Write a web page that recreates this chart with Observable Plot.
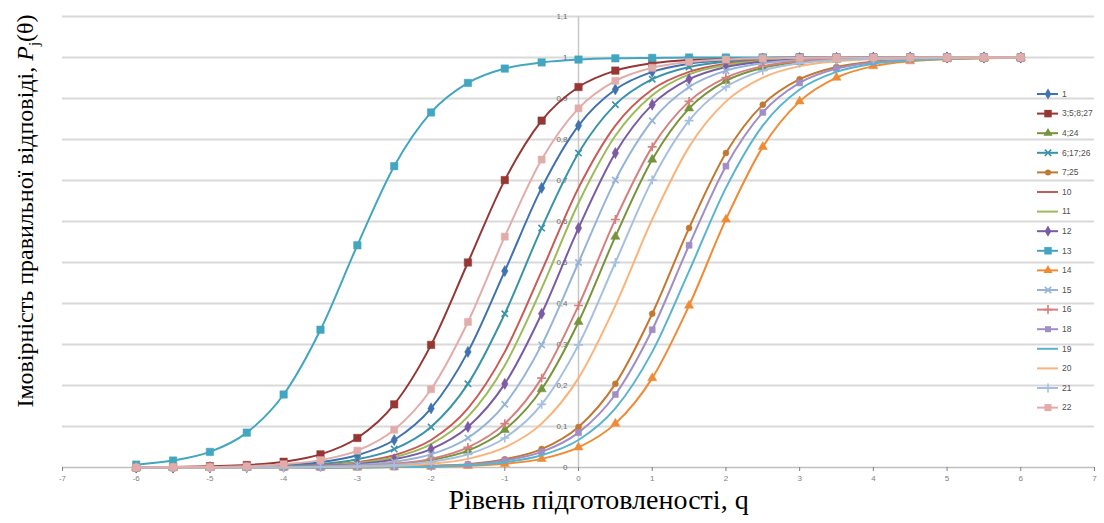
<!DOCTYPE html>
<html><head><meta charset="utf-8">
<script src="https://cdn.jsdelivr.net/npm/d3@7"></script>
<script src="https://cdn.jsdelivr.net/npm/@observablehq/plot@0.6"></script>
<style>body{margin:0;background:#fff}#chart{width:1104px;height:523px}</style>
</head><body><div id="chart"></div>
<script>
// ---- data ----
const theta = [-6,-5.5,-5,-4.5,-4,-3.5,-3,-2.5,-2,-1.5,-1,-0.5,0,0.5,1,1.5,2,2.5,3,3.5,4,4.5,5,5.5,6];
const seriesNames = ["1","3;5;8;27","4;24","6;17;26","7;25","10","11","12","13","14","15","16","18","19","20","21","22"];
const s1       = [0,0,.001,.002,.006,.013,.030,.067,.144,.282,.479,.682,.834,.922,.965,.985,.993,.997,.999,.999,1,1,1,1,1];
const s3_5_8_27= [0,.001,.003,.006,.014,.032,.072,.154,.299,.5,.701,.846,.928,.968,.986,.994,.997,.999,1,1,1,1,1,1,1];
const s4_24    = [0,0,0,0,.001,.001,.003,.008,.018,.041,.092,.191,.355,.563,.751,.876,.943,.975,.989,.995,.998,.999,1,1,1];
const s6_17_26 = [0,0,.001,.002,.004,.008,.020,.045,.099,.204,.375,.584,.767,.885,.947,.977,.990,.996,.998,.999,1,1,1,1,1];
const s7_25    = [0,0,0,0,0,0,.001,.002,.004,.008,.020,.045,.099,.204,.375,.584,.767,.885,.947,.977,.990,.996,.998,.999,1];
const s10      = [0,0,0,.001,.002,.006,.013,.030,.067,.144,.282,.479,.682,.834,.922,.965,.985,.993,.997,.999,.999,1,1,1,1];
const s11      = [0,0,0,.001,.002,.005,.011,.025,.057,.124,.249,.437,.645,.809,.908,.959,.982,.992,.997,.999,.999,1,1,1,1];
const s12      = [0,0,0,.001,.002,.004,.008,.020,.045,.099,.204,.375,.584,.767,.885,.947,.977,.990,.996,.998,.999,1,1,1,1];
const s13      = [.007,.017,.038,.085,.178,.336,.542,.735,.866,.938,.973,.988,.995,.998,.999,1,1,1,1,1,1,1,1,1,1];
const s14      = [0,0,0,0,0,0,0,.001,.002,.004,.009,.021,.049,.107,.218,.395,.605,.782,.893,.951,.979,.991,.996,.998,.999];
const s15      = [0,0,0,0,.001,.003,.006,.014,.032,.072,.154,.299,.5,.701,.846,.928,.968,.986,.994,.997,.999,1,1,1,1];
const s16      = [0,0,0,0,.001,.002,.004,.009,.021,.049,.107,.218,.395,.605,.782,.893,.951,.979,.991,.996,.998,.999,1,1,1];
const s18      = [0,0,0,0,0,0,.001,.001,.003,.007,.017,.038,.085,.178,.336,.542,.735,.866,.938,.973,.988,.995,.998,.999,1];
const s19      = [0,0,0,0,0,0,0,.001,.002,.006,.013,.030,.067,.144,.282,.479,.682,.834,.922,.965,.985,.993,.997,.999,.999];
const s20      = [0,0,0,0,0,.001,.002,.004,.009,.021,.049,.107,.218,.395,.605,.782,.893,.951,.979,.991,.996,.998,.999,1,1];
const s21      = [0,0,0,0,0,.001,.003,.006,.014,.032,.072,.154,.299,.5,.701,.846,.928,.968,.986,.994,.997,.999,1,1,1];
const s22      = [0,.001,.001,.003,.008,.018,.041,.092,.191,.355,.563,.751,.876,.943,.975,.989,.995,.998,.999,1,1,1,1,1,1];
const seriesValues = [s1,s3_5_8_27,s4_24,s6_17_26,s7_25,s10,s11,s12,s13,s14,s15,s16,s18,s19,s20,s21,s22];
const xTicks = [-7,-6,-5,-4,-3,-2,-1,0,1,2,3,4,5,6,7];
const yTicks = [0,0.1,0.2,0.3,0.4,0.5,0.6,0.7,0.8,0.9,1,1.1];
const yTickLabels = ["0","0,1","0,2","0,3","0,4","0,5","0,6","0,7","0,8","0,9","1","1,1"];
const xTitle = "Рівень підготовленості, q";
const yTitleMain = "Імовірність правильної відповіді, ";
const yTitleRaw = yTitleMain + "Pj(θ)";

// ---- styles ----
const styles = {
  "1":        {color:"#3f72af", symbol:"diamond",  r:3.4},
  "3;5;8;27": {color:"#953735", symbol:"square",   r:4.2},
  "4;24":     {color:"#77933c", symbol:"triangle", r:3.4},
  "6;17;26":  {color:"#3a93a8", symbol:"times",    r:3.0},
  "7;25":     {color:"#c27830", symbol:"circle",   r:3.0},
  "10":       {color:"#c85a57", symbol:null},
  "11":       {color:"#9bbb59", symbol:null},
  "12":       {color:"#7b5ba1", symbol:"diamond",  r:3.4},
  "13":       {color:"#43a6c0", symbol:"square",   r:4.2},
  "14":       {color:"#ef8b35", symbol:"triangle", r:3.4},
  "15":       {color:"#95b3d7", symbol:"times",    r:3.0},
  "16":       {color:"#d4807e", symbol:"plus",     r:3.0},
  "18":       {color:"#a08ec4", symbol:"square",   r:3.4},
  "19":       {color:"#5ab4cc", symbol:null},
  "20":       {color:"#fab37a", symbol:null},
  "21":       {color:"#a6bfde", symbol:"plus",     r:3.0},
  "22":       {color:"#e2acaa", symbol:"square",   r:4.0}
};
const strokeSymbols = new Set(["times","plus"]);

const rows = [];
seriesNames.forEach((name, si) => {
  seriesValues[si].forEach((p, i) => rows.push({series: name, theta: theta[i], p}));
});

const marks = [
  Plot.ruleY(yTicks.slice(1), {y: d => d, stroke: "#d9d9d9", strokeWidth: 2}),
  Plot.ruleY([0], {y: d => d, stroke: "#c0c0c0", strokeWidth: 1.5}),
  Plot.ruleX([0], {x: d => d, y1: 0, y2: 1.1, stroke: "#c8c8c8", strokeWidth: 1.5}),
  Plot.axisX(xTicks, {tickSize: 4, tickPadding: 4, tickFormat: d => String(d), fontSize: 8, color: "#808080", label: null}),
  Plot.text(yTicks, {x: 0, y: d => d, text: (d, i) => yTickLabels[i], textAnchor: "end", dx: -11, fontSize: 8, fill: "#6a6a6a"})
];
seriesNames.forEach(name => {
  const st = styles[name];
  const data = rows.filter(d => d.series === name);
  marks.push(Plot.line(data, {x: "theta", y: "p", stroke: st.color, strokeWidth: 2, curve: "monotone-x"}));
  if (st.symbol) {
    if (strokeSymbols.has(st.symbol)) {
      marks.push(Plot.dot(data, {x: "theta", y: "p", symbol: st.symbol, r: st.r, stroke: st.color, strokeWidth: 1.6}));
    } else {
      marks.push(Plot.dot(data, {x: "theta", y: "p", symbol: st.symbol, r: st.r, fill: st.color, stroke: st.color, strokeWidth: 0.5}));
    }
  }
});
marks.push(Plot.text([xTitle], {frameAnchor: "bottom", dy: 41, dx: 20, fontSize: 28, fontFamily: "Liberation Serif, Times New Roman, serif", fill: "#000"}));
marks.push(Plot.text([yTitleRaw], {frameAnchor: "left", textAnchor: "middle", rotate: -90, dx: -37, dy: -31, fontSize: 24, fontFamily: "Liberation Serif, Times New Roman, serif", fill: "#000"}));

const svg = Plot.plot({
  width: 1104, height: 523,
  marginLeft: 62, marginRight: 10, marginTop: 16, marginBottom: 56,
  x: {domain: [-7, 7], axis: null},
  y: {domain: [0, 1.1], axis: null},
  style: {fontFamily: "Liberation Sans, Arial, sans-serif", fontSize: "8px", background: "#fff"},
  marks
});

// subscript in y title
d3.select(svg).selectAll("text").filter(function(){ return this.textContent === yTitleRaw; }).each(function(){
  const t = d3.select(this);
  t.text(null);
  t.append("tspan").text(yTitleMain);
  t.append("tspan").attr("font-style", "italic").text("P");
  t.append("tspan").attr("font-size", "15px").attr("dy", "6").text("j");
  t.append("tspan").attr("dy", "-6").text("(θ)");
});

// legend
const symbolMap = {square: d3.symbolSquare, diamond: d3.symbolDiamond, triangle: d3.symbolTriangle, circle: d3.symbolCircle, times: d3.symbolTimes, plus: d3.symbolPlus};
const lg = d3.select(svg).append("g").attr("text-anchor", "start");
seriesNames.forEach((name, j) => {
  const st = styles[name];
  const y = 94 + 19.6 * j;
  const g = lg.append("g").attr("transform", `translate(0,${y})`);
  g.append("line").attr("x1", 1037).attr("x2", 1058).attr("y1", 0).attr("y2", 0).attr("stroke", st.color).attr("stroke-width", 2);
  if (st.symbol) {
    const path = d3.symbol(symbolMap[st.symbol], Math.PI * st.r * st.r)();
    const p = g.append("path").attr("d", path).attr("transform", "translate(1048,0)");
    if (strokeSymbols.has(st.symbol)) p.attr("fill", "none").attr("stroke", st.color).attr("stroke-width", 1.6);
    else p.attr("fill", st.color);
  }
  g.append("text").attr("x", 1062).attr("y", 0).attr("dy", "0.32em").attr("text-anchor", "start").attr("font-size", 8.5).attr("fill", "#505050").text(name);
});

document.getElementById("chart").appendChild(svg);
</script>
</body></html>
